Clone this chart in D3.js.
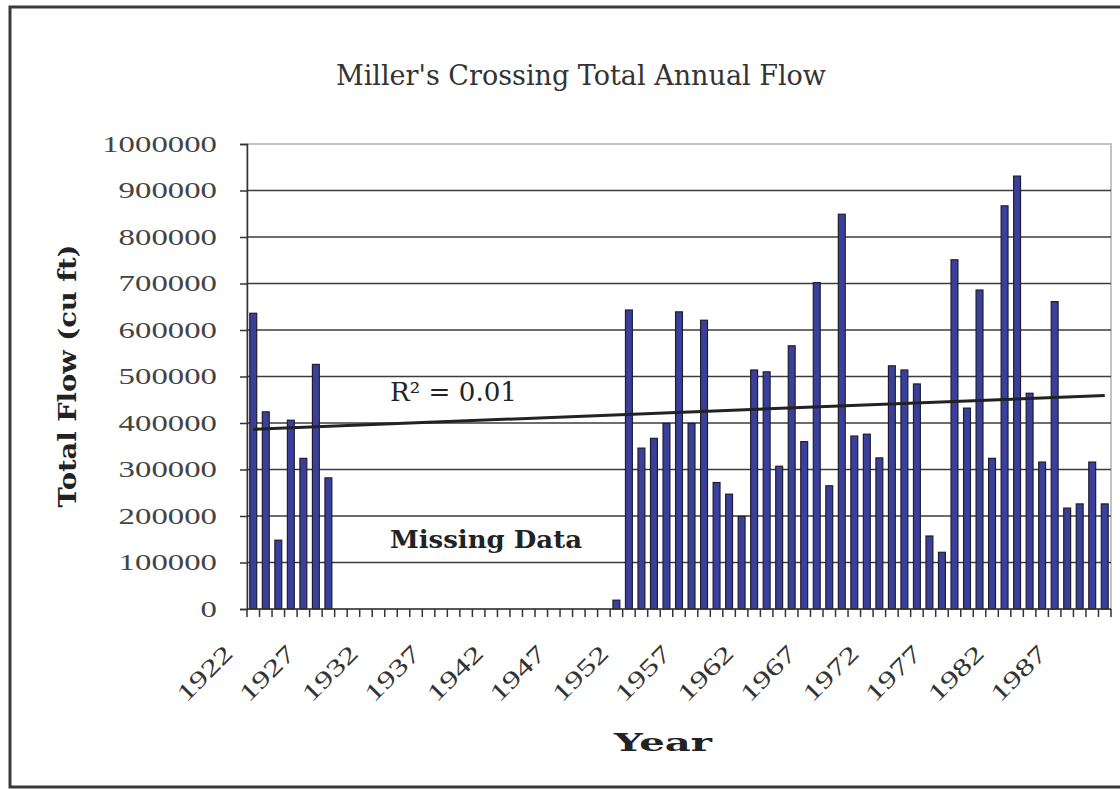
<!DOCTYPE html>
<html>
<head>
<meta charset="utf-8">
<script src="https://cdn.jsdelivr.net/npm/d3@7"></script>
<style>
  html, body { margin: 0; padding: 0; background: #fff; }
  svg { display: block; }
</style>
</head>
<body>
<svg id="chart" width="1120" height="789"></svg>
<script>
// ---- data ----
const years = [1922,1923,1924,1925,1926,1927,1928,1929,1930,1931,1932,1933,1934,1935,1936,1937,1938,1939,1940,1941,
  1942,1943,1944,1945,1946,1947,1948,1949,1950,1951,1952,1953,1954,1955,1956,1957,1958,1959,1960,1961,
  1962,1963,1964,1965,1966,1967,1968,1969,1970,1971,1972,1973,1974,1975,1976,1977,1978,1979,1980,1981,
  1982,1983,1984,1985,1986,1987,1988,1989,1990];
const flows = [636000,424000,148000,406000,324000,526000,282000,
  null,null,null,null,null,null,null,null,null,null,null,null,null,null,null,null,null,null,null,null,null,null,
  19000,643000,346000,367000,399000,639000,399000,621000,272000,247000,199000,
  514000,510000,307000,566000,360000,702000,265000,849000,372000,376000,325000,523000,514000,484000,157000,122000,
  751000,432000,686000,324000,867000,931000,464000,316000,661000,217000,226000,316000,226000];
const tickYears = [1922,1927,1932,1937,1942,1947,1952,1957,1962,1967,1972,1977,1982,1987];
const yTicks = [0,100000,200000,300000,400000,500000,600000,700000,800000,900000,1000000];
const titleText = "Miller's Crossing Total Annual Flow";
const yTitle = "Total Flow (cu ft)";
const xTitle = "Year";
const rSquaredLabel = "R² = 0.01";
const noteLabel = "Missing Data";

// ---- layout ----
const svg = d3.select("#chart");
const plot = {left: 247, right: 1111, top: 144, bottom: 609};

const x = d3.scaleBand().domain(years).range([plot.left, plot.right])
  .paddingInner(0.45).paddingOuter(0.225);
const y = d3.scaleLinear().domain([0, 1000000]).range([plot.bottom, plot.top]);

// outer frame
svg.append("rect").attr("x", 10).attr("y", 7).attr("width", 1200).attr("height", 780)
  .attr("fill", "#fff").attr("stroke", "#3a3a3a").attr("stroke-width", 3);

// title
svg.append("text").attr("x", 581).attr("y", 85).attr("text-anchor", "middle")
  .attr("font-family", "DejaVu Serif").attr("font-size", 28).attr("fill", "#333")
  .attr("textLength", 490).attr("lengthAdjust", "spacingAndGlyphs")
  .text(titleText);

// plot area border (light)
svg.append("rect").attr("x", plot.left).attr("y", plot.top)
  .attr("width", plot.right - plot.left).attr("height", plot.bottom - plot.top)
  .attr("fill", "none").attr("stroke", "#b0b0b0").attr("stroke-width", 1.5);

// gridlines
svg.append("g").selectAll("line").data(yTicks.filter(d => d > 0 && d < 1000000)).join("line")
  .attr("x1", plot.left).attr("x2", plot.right)
  .attr("y1", d => y(d)).attr("y2", d => y(d))
  .attr("stroke", "#3c3c3c").attr("stroke-width", 1.5);

// y axis
const yAxis = d3.axisLeft(y).tickValues(yTicks).tickSize(7).tickFormat(d3.format("d"));
const gy = svg.append("g").attr("transform", `translate(${plot.left},0)`).call(yAxis);
gy.select(".domain").attr("stroke", "#333").attr("stroke-width", 1.5);
gy.selectAll(".tick line").attr("stroke", "#333").attr("stroke-width", 1.5);
gy.selectAll(".tick text")
  .attr("x", -30)
  .attr("font-family", "Liberation Serif").attr("font-size", 23).attr("fill", "#444")
  .attr("textLength", d => String(d).length * 16.4).attr("lengthAdjust", "spacingAndGlyphs");

// x axis: ticks at category boundaries
const step = x.step();
const bounds = years.map(yr => x(yr) - (step - x.bandwidth()) / 2).concat([plot.right]);
svg.append("g").selectAll("line").data(bounds).join("line")
  .attr("x1", d => d).attr("x2", d => d)
  .attr("y1", plot.bottom).attr("y2", plot.bottom + 8)
  .attr("stroke", "#333").attr("stroke-width", 1.5);

// bars
svg.append("g").selectAll("rect").data(years.map((yr, i) => ({yr, v: flows[i]})).filter(d => d.v !== null))
  .join("rect")
  .attr("x", d => x(d.yr)).attr("width", x.bandwidth())
  .attr("y", d => y(d.v)).attr("height", d => y(0) - y(d.v))
  .attr("fill", "#3b3f9c").attr("stroke", "#1e1e2e").attr("stroke-width", 1.2);

// x axis line
svg.append("line").attr("x1", plot.left).attr("x2", plot.right)
  .attr("y1", plot.bottom).attr("y2", plot.bottom)
  .attr("stroke", "#333").attr("stroke-width", 1.5);

// x tick labels
svg.append("g").selectAll("text").data(tickYears).join("text")
  .attr("transform", d => `translate(${x(d) + x.bandwidth() / 2 - 19},${plot.bottom + 46}) rotate(-45)`)
  .attr("text-anchor", "end")
  .attr("font-family", "Liberation Serif").attr("font-size", 24).attr("fill", "#333")
  .attr("textLength", 68).attr("lengthAdjust", "spacingAndGlyphs")
  .text(d => d);

// linear trend line (least squares over available values)
const pts = years.map((yr, i) => [i + 1, flows[i]]).filter(p => p[1] !== null);
const mx = d3.mean(pts, p => p[0]), my = d3.mean(pts, p => p[1]);
const slope = d3.sum(pts, p => (p[0] - mx) * (p[1] - my)) / d3.sum(pts, p => (p[0] - mx) ** 2);
const icpt = my - slope * mx;
const trend = [years[0], years[years.length - 1]].map(yr => ({yr, v: icpt + slope * (years.indexOf(yr) + 1)}));
svg.append("path").datum(trend)
  .attr("d", d3.line().x(d => x(d.yr) + x.bandwidth() / 2).y(d => y(d.v)))
  .attr("fill", "none").attr("stroke", "#222").attr("stroke-width", 3);

// annotations
svg.append("text").attr("x", 390).attr("y", 401)
  .attr("font-family", "DejaVu Serif").attr("font-size", 26).attr("fill", "#222")
  .attr("textLength", 127).attr("lengthAdjust", "spacingAndGlyphs")
  .text(rSquaredLabel);
svg.append("text").attr("x", 390).attr("y", 548)
  .attr("font-family", "DejaVu Serif").attr("font-weight", "bold").attr("font-size", 25).attr("fill", "#222")
  .attr("textLength", 192).attr("lengthAdjust", "spacingAndGlyphs")
  .text(noteLabel);

// axis titles
svg.append("text").attr("transform", "translate(76,376) rotate(-90)").attr("text-anchor", "middle")
  .attr("font-family", "DejaVu Serif").attr("font-weight", "bold").attr("font-size", 25).attr("fill", "#222")
  .attr("textLength", 263).attr("lengthAdjust", "spacingAndGlyphs")
  .text(yTitle);
svg.append("text").attr("x", 663).attr("y", 751).attr("text-anchor", "middle")
  .attr("font-family", "DejaVu Serif").attr("font-weight", "bold").attr("font-size", 25).attr("fill", "#222")
  .attr("textLength", 98).attr("lengthAdjust", "spacingAndGlyphs")
  .text(xTitle);
</script>
</body>
</html>
